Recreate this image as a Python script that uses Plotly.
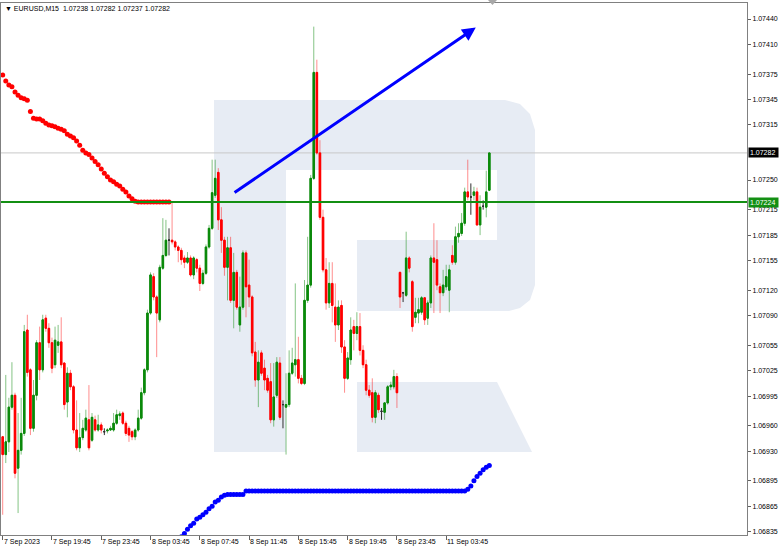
import plotly.graph_objects as go

# ---------------- data (EURUSD M15) ----------------
opens = [1.06947,1.06926,1.06941,1.06982,1.06996,1.06910,1.06931,1.06951,1.07073,1.07026,
         1.06957,1.06996,1.07058,1.07026,1.07087,1.07075,1.07058,1.07032,1.07055,1.07059,
         1.07034,1.06988,1.07022,1.07006,1.06955,1.06934,1.06946,1.06955,1.06967,1.06943,
         1.06967,1.06955,1.06961,1.06953,1.06954,1.06955,1.06955,1.06963,1.06972,1.06975,
         1.06963,1.06957,1.06953,1.06947,1.06955,1.06969,1.06999,1.07026,1.07093,1.07136,
         1.07112,1.07085,1.07146,1.07161,1.07179,1.07179,1.07177,1.07171,1.07167,1.07158,
         1.07153,1.07158,1.07138,1.07156,1.07146,1.07128,1.07140,1.07171,1.07193,1.07232,
         1.07259,1.07203,1.07179,1.07147,1.07170,1.07108,1.07141,1.07079,1.07100,1.07164,
         1.07126,1.07112,1.07047,1.07014,1.07046,1.07028,1.07016,1.07012,1.06967,1.06996,
         1.07034,1.06985,1.06982,1.06985,1.07022,1.07032,1.07038,1.07016,1.07010,1.07108,
         1.07126,1.07252,1.07377,1.07282,1.07206,1.07144,1.07105,1.07128,1.07100,1.07079,
         1.07102,1.07053,1.07016,1.07038,1.07077,1.07069,1.07077,1.07049,1.07032,1.07002,
         1.06999,1.06970,1.06996,1.06977,1.06976,1.06987,1.07006,1.07006,1.07018,1.07141,
         1.07117,1.07114,1.07158,1.07130,1.07088,1.07093,1.07094,1.07111,1.07087,1.07105,
         1.07158,1.07156,1.07124,1.07117,1.07124,1.07120,1.07161,1.07153,1.07183,1.07187,
         1.07199,1.07236,1.07230,1.07232,1.07236,1.07197,1.07219,1.07218,1.07238]
highs = [1.06948,1.07020,1.06993,1.07035,1.06999,1.06975,1.06993,1.07079,1.07091,1.07028,
         1.07014,1.07061,1.07077,1.07091,1.07091,1.07081,1.07064,1.07077,1.07079,1.07088,
         1.07035,1.07029,1.07026,1.07008,1.06990,1.06975,1.06967,1.06979,1.07008,1.06975,
         1.06972,1.06973,1.06964,1.06957,1.06957,1.06960,1.06975,1.06979,1.06977,1.06977,
         1.06966,1.06960,1.06955,1.06957,1.06979,1.07005,1.07028,1.07097,1.07141,1.07140,
         1.07114,1.07150,1.07205,1.07203,1.07193,1.07224,1.07179,1.07173,1.07170,1.07161,
         1.07165,1.07161,1.07160,1.07158,1.07150,1.07144,1.07174,1.07197,1.07274,1.07274,
         1.07264,1.07218,1.07183,1.07183,1.07183,1.07164,1.07144,1.07136,1.07167,1.07167,
         1.07156,1.07114,1.07059,1.07049,1.07049,1.07038,1.07020,1.07034,1.07034,1.07041,
         1.07041,1.06990,1.07022,1.07049,1.07052,1.07128,1.07065,1.07020,1.07132,1.07183,
         1.07256,1.07431,1.07392,1.07297,1.07215,1.07158,1.07153,1.07153,1.07128,1.07108,
         1.07108,1.07061,1.07047,1.07088,1.07085,1.07094,1.07093,1.07055,1.07038,1.07008,
         1.07016,1.07002,1.06999,1.06981,1.06988,1.07008,1.07012,1.07026,1.07022,1.07142,
         1.07118,1.07189,1.07160,1.07132,1.07111,1.07111,1.07113,1.07112,1.07108,1.07161,
         1.07199,1.07179,1.07128,1.07144,1.07150,1.07150,1.07173,1.07195,1.07199,1.07211,
         1.07241,1.07274,1.07246,1.07242,1.07241,1.07232,1.07226,1.07261,1.07282]
lows = [1.06855,1.06916,1.06929,1.06979,1.06898,1.06857,1.06926,1.06948,1.07018,1.06949,
        1.06953,1.06990,1.07014,1.07023,1.07071,1.07052,1.07022,1.07028,1.07046,1.07028,
        1.06979,1.06970,1.07002,1.06951,1.06931,1.06929,1.06943,1.06953,1.06931,1.06941,
        1.06953,1.06953,1.06951,1.06949,1.06951,1.06954,1.06953,1.06961,1.06967,1.06961,
        1.06948,1.06941,1.06943,1.06943,1.06953,1.06967,1.06996,1.07023,1.07091,1.07108,
        1.07041,1.07082,1.07144,1.07159,1.07161,1.07174,1.07167,1.07153,1.07150,1.07146,
        1.07151,1.07136,1.07133,1.07141,1.07119,1.07126,1.07138,1.07169,1.07191,1.07229,
        1.07191,1.07164,1.07137,1.07108,1.07105,1.07075,1.07097,1.07071,1.07097,1.07088,
        1.07100,1.07042,1.07006,1.06982,1.07019,1.07002,1.06999,1.06963,1.06959,1.06993,
        1.06967,1.06957,1.06926,1.06982,1.07020,1.07018,1.07010,1.07008,1.07008,1.07105,
        1.07123,1.07250,1.07280,1.07203,1.07141,1.07097,1.07099,1.07082,1.07059,1.07073,
        1.07046,1.06999,1.07014,1.07032,1.07049,1.07061,1.07043,1.07028,1.06996,1.06993,
        1.06964,1.06963,1.06975,1.06967,1.06967,1.06985,1.07002,1.07003,1.06981,1.07099,
        1.07106,1.07112,1.07141,1.07071,1.07081,1.07081,1.07091,1.07079,1.07079,1.07099,
        1.07093,1.07120,1.07093,1.07113,1.07120,1.07094,1.07150,1.07150,1.07176,1.07184,
        1.07196,1.07226,1.07209,1.07226,1.07196,1.07185,1.07215,1.07206,1.07237]
closes = [1.06926,1.06941,1.06982,1.06996,1.06904,1.06931,1.06951,1.07071,1.07023,1.06957,
          1.06996,1.07058,1.07026,1.07085,1.07075,1.07058,1.07028,1.07061,1.07059,1.07032,
          1.06985,1.07022,1.07006,1.06955,1.06934,1.06946,1.06957,1.06969,1.06934,1.06970,
          1.06955,1.06961,1.06955,1.06953,1.06955,1.06957,1.06963,1.06973,1.06974,1.06963,
          1.06951,1.06949,1.06947,1.06955,1.06969,1.06999,1.07026,1.07093,1.07138,1.07112,
          1.07093,1.07147,1.07161,1.07179,1.07179,1.07177,1.07171,1.07167,1.07156,1.07153,
          1.07158,1.07138,1.07158,1.07146,1.07128,1.07140,1.07171,1.07193,1.07235,1.07252,
          1.07203,1.07179,1.07147,1.07170,1.07108,1.07141,1.07100,1.07100,1.07164,1.07124,
          1.07112,1.07046,1.07014,1.07035,1.07022,1.07014,1.07002,1.06967,1.06994,1.07035,
          1.06970,1.06985,1.06985,1.07022,1.07034,1.07038,1.07016,1.07010,1.07108,1.07126,
          1.07252,1.07377,1.07282,1.07206,1.07144,1.07105,1.07128,1.07102,1.07079,1.07100,
          1.07053,1.07016,1.07040,1.07073,1.07069,1.07077,1.07049,1.07032,1.07002,1.06996,
          1.06970,1.06999,1.06979,1.06977,1.06987,1.07006,1.07008,1.07018,1.06999,1.07112,
          1.07117,1.07158,1.07146,1.07077,1.07094,1.07097,1.07111,1.07085,1.07105,1.07158,
          1.07153,1.07126,1.07117,1.07126,1.07136,1.07144,1.07153,1.07183,1.07187,1.07199,
          1.07236,1.07230,1.07230,1.07236,1.07197,1.07218,1.07219,1.07236,1.07282]

# upper (red) and lower (blue) dot indicator
red_dots_start = 0
red_dots = [1.07374,1.07367,1.07362,1.07360,1.07354,1.07350,1.07347,1.07346,1.07344,1.07331,
            1.07323,1.07322,1.07322,1.07320,1.07317,1.07315,1.07314,1.07313,1.07311,1.07310,
            1.07308,1.07304,1.07302,1.07300,1.07296,1.07291,1.07285,1.07282,1.07280,1.07276,
            1.07272,1.07268,1.07263,1.07258,1.07254,1.07250,1.07248,1.07245,1.07243,1.07239,
            1.07236,1.07231,1.07228,1.07225,1.07224,1.07224,1.07224,1.07224,1.07224,1.07224,
            1.07224,1.07224,1.07224,1.07224,1.07224]
blue_dots_start = 58
blue_dots = [1.06829,1.06833,1.06838,1.06842,1.06845,1.06850,1.06852,1.06855,1.06858,1.06862,
             1.06865,1.06870,1.06872,1.06876,1.06878,1.06879,1.06879,1.06879,1.06879,1.06879,
             1.06879,1.06883,1.06883,1.06883,1.06883,1.06883,1.06883,1.06883,1.06883,1.06883,
             1.06883,1.06883,1.06883,1.06883,1.06883,1.06883,1.06883,1.06883,1.06883,1.06883,
             1.06883,1.06883,1.06883,1.06883,1.06883,1.06883,1.06883,1.06883,1.06883,1.06883,
             1.06883,1.06883,1.06883,1.06883,1.06883,1.06883,1.06883,1.06883,1.06883,1.06883,
             1.06883,1.06883,1.06883,1.06883,1.06883,1.06883,1.06883,1.06883,1.06883,1.06883,
             1.06883,1.06883,1.06883,1.06883,1.06883,1.06883,1.06883,1.06883,1.06883,1.06883,
             1.06883,1.06883,1.06883,1.06883,1.06883,1.06883,1.06883,1.06883,1.06883,1.06883,
             1.06883,1.06883,1.06883,1.06885,1.06889,1.06895,1.06900,1.06904,1.06908,1.06911,
             1.06913]

bid_price = 1.07282
level_price = 1.07224
arrow_start = (74.8, 1.07234)
arrow_end = (153.6, 1.07430)

x_tick_bars = [0, 16, 32, 48, 64, 80, 96, 112, 128, 144]
x_tick_labels = ["7 Sep 2023", "7 Sep 19:45", "7 Sep 23:45", "8 Sep 03:45", "8 Sep 07:45",
                 "8 Sep 11:45", "8 Sep 15:45", "8 Sep 19:45", "8 Sep 23:45", "11 Sep 03:45"]
y_tick_values = [1.07440, 1.07410, 1.07375, 1.07345, 1.07315, 1.07250, 1.07215, 1.07185,
                 1.07155, 1.07120, 1.07090, 1.07055, 1.07025, 1.06995, 1.06960, 1.06930,
                 1.06895, 1.06865, 1.06835]
title_text = "▼ EURUSD,M15  1.07238 1.07282 1.07237 1.07282"

# ---------------- layout helpers ----------------
W, H = 782, 552
ML, MR, MT, MB = 1, 35, 3, 17
PW, PH = W - ML - MR, H - MT - MB
def PX(x):
    return (x - ML) / PW
def PY(y):
    return (H - MB - y) / PH

FONT = "Liberation Sans, Arial, sans-serif"
GREEN = "#0b8a0b"
GREEN_W = "rgba(11,138,11,0.5)"
RED = "#ff0000"
RED_W = "rgba(255,0,0,0.45)"
DOJI = "#303030"

fig = go.Figure()

idx = list(range(len(opens)))
groups = {
    "up": [i for i in idx if closes[i] > opens[i]],
    "down": [i for i in idx if closes[i] < opens[i]],
    "doji": [i for i in idx if closes[i] == opens[i]],
}
colors = {"up": (GREEN, GREEN_W), "down": (RED, RED_W), "doji": (DOJI, DOJI)}

for g, ids in groups.items():
    body_c, wick_c = colors[g]
    xs = ids
    o = [opens[i] for i in ids]
    h = [highs[i] for i in ids]
    l = [lows[i] for i in ids]
    c = [closes[i] for i in ids]
    # wicks
    fig.add_trace(go.Candlestick(
        x=xs, open=o, high=h, low=l, close=c,
        increasing=dict(line=dict(color=wick_c, width=1), fillcolor=body_c),
        decreasing=dict(line=dict(color=wick_c, width=1), fillcolor=body_c),
        whiskerwidth=0, showlegend=False, hoverinfo="skip"))
    # bodies
    bh = [max(a, b) for a, b in zip(o, c)]
    bl = [min(a, b) for a, b in zip(o, c)]
    fig.add_trace(go.Candlestick(
        x=xs, open=o, high=bh, low=bl, close=c,
        increasing=dict(line=dict(color=body_c, width=1), fillcolor=body_c),
        decreasing=dict(line=dict(color=body_c, width=1), fillcolor=body_c),
        whiskerwidth=0, showlegend=False, hoverinfo="skip"))

fig.add_trace(go.Scatter(
    x=list(range(red_dots_start, red_dots_start + len(red_dots))), y=red_dots,
    mode="markers", marker=dict(color="#ff0000", size=5), showlegend=False, hoverinfo="skip"))
fig.add_trace(go.Scatter(
    x=list(range(blue_dots_start, blue_dots_start + len(blue_dots))), y=blue_dots,
    mode="markers", marker=dict(color="#0000ff", size=5), showlegend=False, hoverinfo="skip"))

# ---------------- watermark (logo) ----------------
WM = "#e7ecf4"
def path(pts):
    return "M " + " L ".join(f"{PX(x):.5f},{PY(y):.5f}" for x, y in pts) + " Z"

shapes = []
shapes.append(dict(type="path", xref="paper", yref="paper", layer="below",
                   path=path([(214, 100), (286, 100), (286, 452), (214, 452)]),
                   fillcolor=WM, line=dict(width=0)))
shapes.append(dict(type="path", xref="paper", yref="paper", layer="below",
                   path=path([(286, 100), (505, 100), (520, 104), (530, 114), (535, 130),
                              (535, 285), (530, 300), (520, 308), (509, 311), (357, 311),
                              (357, 240), (497, 240), (497, 170), (286, 170)]),
                   fillcolor=WM, line=dict(width=0)))
shapes.append(dict(type="path", xref="paper", yref="paper", layer="below",
                   path=path([(357, 382), (497, 382), (532, 452), (357, 452)]),
                   fillcolor=WM, line=dict(width=0)))
# bid line and level line
shapes.append(dict(type="line", xref="paper", yref="y", x0=0, x1=1, y0=bid_price, y1=bid_price,
                   line=dict(color="#c8c8c8", width=1), layer="below"))
shapes.append(dict(type="line", xref="paper", yref="y", x0=0, x1=1, y0=level_price, y1=level_price,
                   line=dict(color="#138f13", width=2)))
# chart shift marker
shapes.append(dict(type="path", xref="paper", yref="paper",
                   path=path([(488, 0), (497, 0), (492.5, 5)]),
                   fillcolor="#a8a8a8", line=dict(width=0)))

annotations = []
annotations.append(dict(x=arrow_end[0], y=arrow_end[1], ax=arrow_start[0], ay=arrow_start[1],
                        xref="x", yref="y", axref="x", ayref="y", showarrow=True, text="",
                        arrowhead=2, arrowsize=0.9, arrowwidth=3, arrowcolor="#0000ff"))
for b, t in zip(x_tick_bars, x_tick_labels):
    annotations.append(dict(x=b, y=0, xref="x", yref="paper", text=t, showarrow=False,
                            xanchor="left", yanchor="top", yshift=-1, xshift=-1,
                            font=dict(family=FONT, size=7, color="#000000")))
annotations.append(dict(x=PX(3), y=PY(8), xref="paper", yref="paper", text=title_text,
                        showarrow=False, xanchor="left", yanchor="middle",
                        font=dict(family=FONT, size=7, color="#000000")))
annotations.append(dict(x=1, y=bid_price, xref="paper", yref="y", text=f"{bid_price:.5f} ",
                        showarrow=False, xanchor="left", yanchor="middle", xshift=1,
                        bgcolor="#000000", borderpad=1,
                        font=dict(family=FONT, size=7, color="#ffffff")))
annotations.append(dict(x=1, y=level_price, xref="paper", yref="y", text=f"{level_price:.5f} ",
                        showarrow=False, xanchor="left", yanchor="middle", xshift=1,
                        bgcolor="#138f13", borderpad=1,
                        font=dict(family=FONT, size=7, color="#ffffff")))

fig.update_layout(
    width=W, height=H, margin=dict(l=ML, r=MR, t=MT, b=MB, autoexpand=False),
    paper_bgcolor="#ffffff", plot_bgcolor="#ffffff",
    shapes=shapes, annotations=annotations, showlegend=False,
    font=dict(family=FONT, size=7, color="#000000"),
    xaxis=dict(range=[-0.55, 241.66], rangeslider=dict(visible=False), showgrid=False,
               zeroline=False, showline=True, linecolor="#808080", linewidth=1, mirror=True,
               tickvals=x_tick_bars, ticktext=[""] * len(x_tick_bars), ticks="outside",
               ticklen=4, tickcolor="#606060", showticklabels=False, fixedrange=True),
    yaxis=dict(range=[1.068311, 1.074589], side="right", showgrid=False, zeroline=False,
               showline=True, linecolor="#808080", linewidth=1, mirror=True,
               tickvals=y_tick_values, ticktext=[f"{v:.5f}" for v in y_tick_values],
               ticks="outside", ticklen=3, tickcolor="#606060",
               tickfont=dict(family=FONT, size=7, color="#000000"), fixedrange=True),
)

fig.write_html("out.html",
               config={"displayModeBar": False, "staticPlot": True},
               post_script="document.body.style.margin='0px';document.body.style.overflow='hidden';")
